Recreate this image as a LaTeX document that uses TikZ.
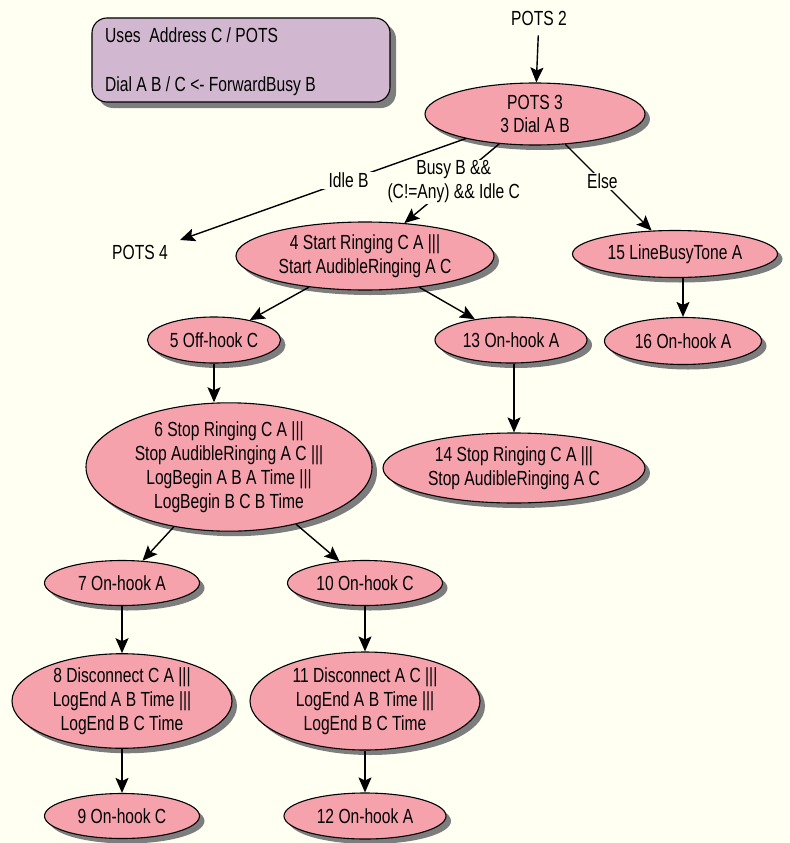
\documentclass[tikz,border=0pt]{standalone}
\usepackage{fontspec}
\setmainfont{Liberation Sans}[FakeStretch=0.765]
\usetikzlibrary{shapes.geometric,arrows.meta,shadows}
\definecolor{paper}{RGB}{255,255,242}
\definecolor{rose}{RGB}{245,162,173}
\definecolor{lilac}{RGB}{209,184,208}
\definecolor{shade}{RGB}{125,125,125}
\begin{document}
\begin{tikzpicture}[x=1bp,y=-1bp,
  every node/.style={font=\fontsize{20.5}{24}\selectfont, align=center},
  castshadow/.style={drop shadow={shadow xshift=5bp, shadow yshift=-5bp, fill=shade, opacity=1}},
  state/.style={ellipse, draw=black, line width=1.1bp, fill=rose, inner sep=0pt, castshadow},
  flow/.style={line width=1.4bp, -{Stealth[length=15bp,width=13bp,inset=3bp]}},
  guard/.style={fill=paper, inner ysep=1bp, inner xsep=2bp},
  plain/.style={inner sep=1bp}]
\fill[paper] (0,0) rectangle (790,843);
\useasboundingbox (0,0) rectangle (790,843);

% declaration box and its two lines
\node[draw=black, line width=1.1bp, rounded corners=15bp, fill=lilac,
      drop shadow={shadow xshift=6bp, shadow yshift=-6bp, fill=shade, opacity=1},
      minimum width=298bp, minimum height=84bp, inner sep=0pt]
  (decl) at (241,60) {};
\node[anchor=north west, align=left, inner sep=0pt] (decltext) at (105,28)
  {Uses\ \ Address C / POTS\\[25bp]Dial A B / C <- ForwardBusy B};

% entry and exit points
\node[plain] (pots2) at (539,18) {POTS 2};
\node[plain] (pots4) at (140,252) {POTS 4};
\coordinate (pots4tip) at (180,240);

% states
\node[state, minimum width=220bp, minimum height=62bp] (p3)  at (535,114) {POTS 3\\3 Dial A B};
\node[state, minimum width=258bp, minimum height=68bp] (n4)  at (365,256) {4 Start Ringing C A |||\\Start AudibleRinging A C};
\node[state, minimum width=205bp, minimum height=47bp] (n15) at (675,254) {15 LineBusyTone A};
\node[state, minimum width=133bp, minimum height=46bp] (n5)  at (214,340) {5 Off-hook C};
\node[state, minimum width=152bp, minimum height=46bp] (n13) at (511,340) {13 On-hook A};
\node[state, minimum width=157bp, minimum height=47bp] (n16) at (683,341) {16 On-hook A};
\node[state, minimum width=286bp, minimum height=110bp] (n6) at (229,467) {6 Stop Ringing C A |||\\Stop AudibleRinging A C |||\\LogBegin A B A Time |||\\LogBegin B C B Time};
\node[state, minimum width=262bp, minimum height=70bp] (n14) at (514,468) {14 Stop Ringing C A |||\\Stop AudibleRinging A C};
\node[state, minimum width=155bp, minimum height=45bp] (n7)  at (122,583) {7 On-hook A};
\node[state, minimum width=155bp, minimum height=45bp] (n10) at (365,583) {10 On-hook C};
\node[state, minimum width=220bp, minimum height=94bp] (n8)  at (122,701) {8 Disconnect C A |||\\LogEnd A B Time |||\\LogEnd B C Time};
\node[state, minimum width=230bp, minimum height=98bp] (n11) at (365,701) {11 Disconnect A C |||\\LogEnd A B Time |||\\LogEnd B C Time};
\node[state, minimum width=155bp, minimum height=45bp] (n9)  at (122,816) {9 On-hook C};
\node[state, minimum width=162bp, minimum height=46bp] (n12) at (365,816) {12 On-hook A};

% transitions
\draw[flow, shorten <=9bp] (pots2) -- (p3);
\draw[flow] (p3) -- node[guard, inner xsep=0pt, pos=0.48] {Busy B \&\&\\(C!=Any) \&\& Idle C} (n4);
\draw[flow] (p3) -- node[guard, inner xsep=14bp, pos=0.41] {Idle B} (pots4tip);
\draw[flow] (p3) -- node[guard, pos=0.43] {Else} (n15);
\draw[flow] (n4) -- (n5);
\draw[flow] (n4) -- (n13);
\draw[flow] (n16 |- n15.south) -- (n16);
\draw[flow] (n5) -- (n5 |- n6.north);
\draw[flow] (n14 |- n13.south) -- (n14);
\draw[flow] (n6) -- (n7);
\draw[flow] (n6) -- (n10);
\draw[flow] (n7) -- (n8);
\draw[flow] (n10) -- (n11);
\draw[flow] (n8) -- (n9);
\draw[flow] (n11) -- (n12);
\end{tikzpicture}
\end{document}
